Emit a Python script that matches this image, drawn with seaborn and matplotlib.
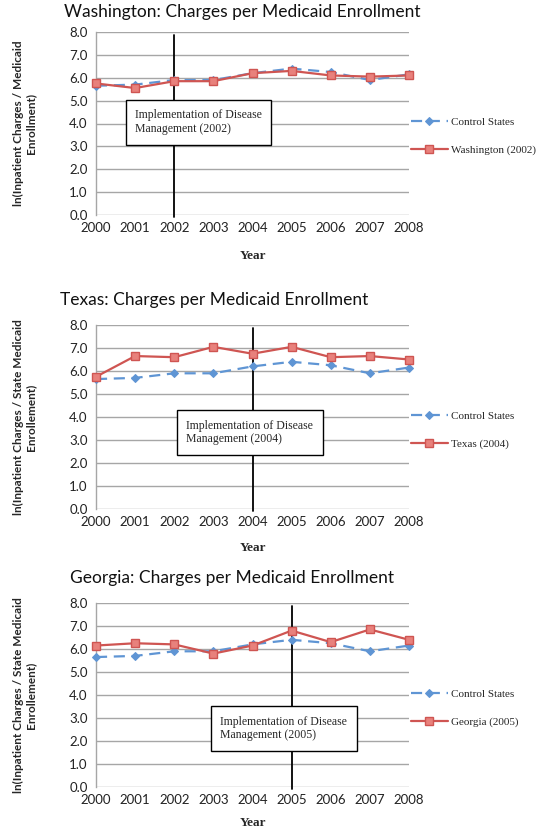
import pandas as pd
import seaborn as sns
import matplotlib.pyplot as plt

# data
years = [2000, 2001, 2002, 2003, 2004, 2005, 2006, 2007, 2008]
control = [5.65, 5.70, 5.90, 5.90, 6.20, 6.40, 6.25, 5.90, 6.15]
washington = [5.75, 5.55, 5.85, 5.85, 6.20, 6.30, 6.10, 6.05, 6.10]
texas = [5.75, 6.65, 6.60, 7.05, 6.75, 7.05, 6.60, 6.65, 6.50]
georgia = [6.15, 6.25, 6.20, 5.80, 6.15, 6.80, 6.30, 6.85, 6.40]

states = ['Washington', 'Texas', 'Georgia']
state_values = [washington, texas, georgia]
impl_years = [2002, 2004, 2005]
ylabels = ['ln(Inpatient Charges / Medicaid\nEnrollment)',
           'ln(Inpatient Charges / State Medicaid\nEnrollement)',
           'ln(Inpatient Charges / State Medicaid\nEnrollement)']
y_ticks = [0, 1, 2, 3, 4, 5, 6, 7, 8]

# layout in pixels: left, top, right, bottom of each plot area
W, H = 546, 832
plot_px = [(96, 32, 409, 215), (96, 325, 409, 509), (96, 603, 409, 787)]
title_pos = [(242, 12), (214, 300), (232, 578)]
year_label_y = [-0.19, -0.18, -0.165]
box_pos = [(2002.62, 4.05), (2003.93, 3.33), (2004.8, 2.54)]

sns.set_style('white')
plt.rcParams['font.family'] = ['Lato', 'DejaVu Sans']

blue = '#5f95d4'
red = '#cf5552'

fig = plt.figure(figsize=(W / 100, H / 100), dpi=100)

for i in range(3):
    l, t, r, b = plot_px[i]
    ax = fig.add_axes([l / W, 1 - b / H, (r - l) / W, (b - t) / H])
    lbl = f'{states[i]} ({impl_years[i]})'
    df = pd.DataFrame({'Year': years * 2,
                       'Value': control + state_values[i],
                       'Series': ['Control States'] * 9 + [lbl] * 9})
    sns.lineplot(data=df, x='Year', y='Value', hue='Series', style='Series',
                 palette={'Control States': blue, lbl: red},
                 dashes={'Control States': (5, 3), lbl: ''},
                 markers={'Control States': 'D', lbl: 's'},
                 linewidth=1.6, ax=ax, clip_on=False, zorder=4)
    # marker styling
    for line in ax.get_lines():
        if line.get_color() == blue:
            line.set_markersize(4.5)
            line.set_markerfacecolor(blue)
            line.set_markeredgecolor(blue)
        else:
            line.set_markersize(6)
            line.set_markerfacecolor('#e8817c')
            line.set_markeredgecolor(red)
            line.set_markeredgewidth(1.0)

    # implementation line
    ax.plot([impl_years[i], impl_years[i]], [-0.1, 7.85], color='black', lw=1.3,
            clip_on=False, zorder=3)
    ax.text(box_pos[i][0], box_pos[i][1],
            f'Implementation of Disease\nManagement ({impl_years[i]})',
            ha='center', va='center', multialignment='left',
            fontsize=8.5, family='Liberation Serif', zorder=5,
            bbox=dict(boxstyle='square,pad=0.8', fc='white', ec='black', lw=1.0))

    ax.set_xlim(2000, 2008)
    ax.set_ylim(0, 8)
    ax.set_yticks(y_ticks)
    ax.set_yticklabels([f'{v:.1f}' for v in y_ticks])
    ax.set_xticks(years)
    ax.set_xticklabels([str(y) for y in years])
    ax.tick_params(axis='both', length=0, labelsize=9.5, colors='#222222')
    ax.tick_params(axis='y', pad=6)
    ax.tick_params(axis='x', pad=5)
    ax.grid(axis='y', color='#a6a6a6', lw=1.0)
    for s in ['top', 'right', 'bottom']:
        ax.spines[s].set_visible(False)
    ax.spines['left'].set_color('#a6a6a6')
    ax.spines['left'].set_linewidth(1.0)

    ax.set_xlabel('Year', fontsize=9.5, fontweight='bold', family='Liberation Serif')
    ax.xaxis.set_label_coords(0.5, year_label_y[i])
    ax.set_ylabel(ylabels[i], fontsize=8.5, fontweight='bold')
    ax.yaxis.set_label_coords(-0.19, 0.5)

    ax.legend(loc='center left', bbox_to_anchor=(1.005, 0.43), frameon=False,
              borderaxespad=0, borderpad=0,
              handlelength=3.4, handletextpad=0.2, labelspacing=1.6,
              prop={'family': 'Liberation Serif', 'size': 8})

    fig.text(title_pos[i][0] / W, 1 - title_pos[i][1] / H,
             f'{states[i]}: Charges per Medicaid Enrollment',
             ha='center', va='center', fontsize=12.5, color='#111111')

fig.savefig('out.png', dpi=100)
